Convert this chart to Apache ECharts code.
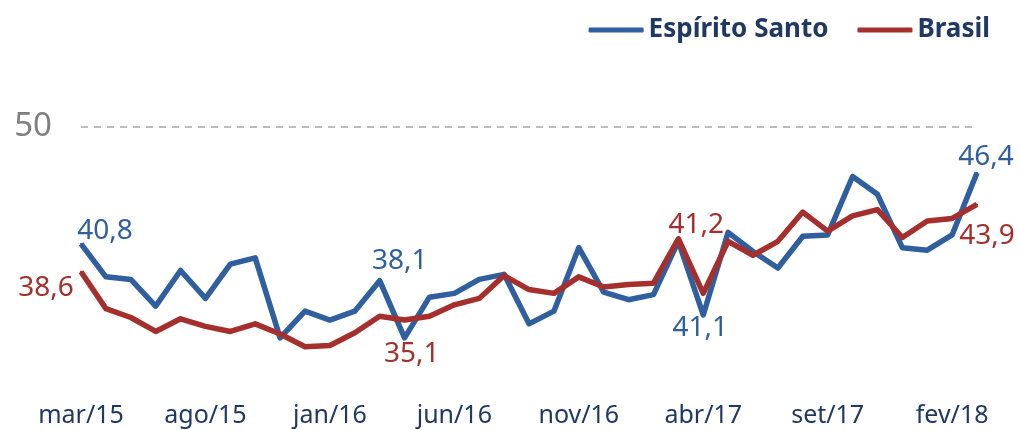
<!DOCTYPE html>
<html>
<head>
<meta charset="utf-8">
<script src="https://cdn.jsdelivr.net/npm/echarts@6/dist/echarts.min.js"></script>
<style>
  html, body { margin: 0; padding: 0; background: #ffffff; }
  #chart { width: 1019px; height: 430px; }
</style>
</head>
<body>
<div id="chart"></div>
<script>
// meses (mar/15 .. mar/18)
const months = [
  'mar/15', 'abr/15', 'mai/15', 'jun/15', 'jul/15', 'ago/15', 'set/15', 'out/15', 'nov/15', 'dez/15',
  'jan/16', 'fev/16', 'mar/16', 'abr/16', 'mai/16', 'jun/16', 'jul/16', 'ago/16', 'set/16', 'out/16',
  'nov/16', 'dez/16', 'jan/17', 'fev/17', 'mar/17', 'abr/17', 'mai/17', 'jun/17', 'jul/17', 'ago/17',
  'set/17', 'out/17', 'nov/17', 'dez/17', 'jan/18', 'fev/18', 'mar/18'
];

const espiritoSanto = [
  40.8, 38.2, 38.0, 35.9, 38.7, 36.5, 39.2, 39.7, 33.4, 35.5,
  34.8, 35.5, 37.9, 33.4, 36.6, 36.9, 38.0, 38.4, 34.5, 35.5,
  40.5, 37.0, 36.4, 36.8, 41.0, 35.2, 41.7, 40.2, 38.9, 41.4,
  41.5, 46.1, 44.7, 40.5, 40.3, 41.5, 46.4
];

const brasil = [
  38.6, 35.7, 35.0, 33.9, 34.9, 34.3, 33.9, 34.5, 33.7, 32.7,
  32.8, 33.8, 35.1, 34.8, 35.1, 36.0, 36.5, 38.3, 37.2, 36.9,
  38.2, 37.4, 37.6, 37.7, 41.2, 36.9, 41.0, 39.9, 41.0, 43.3,
  41.8, 43.0, 43.5, 41.3, 42.6, 42.8, 43.9
];

// rótulos de dados (índice do ponto e texto)
const esLabelIdx = [0, 12, 25, 36];
const esLabelText = ['40,8', '38,1', '41,1', '46,4'];
const brLabelIdx = [0, 12, 24, 36];
const brLabelText = ['38,6', '35,1', '41,2', '43,9'];

const yTicks = [50];

const BLUE = '#2f5f9e';
const RED = '#a52f2c';
const NAVY = '#1f3864';
const FONT = '"Noto Sans", sans-serif';

// desloca o rótulo em relação ao ponto
const esOffsets = [[24, -13], [20, -20], [-3, 13], [9, -16]];
const brOffsets = [[-35, 16], [32, 38], [18, -14], [10, 32]];

function withLabels(values, idx, texts, offsets, color) {
  return values.map((v, i) => {
    const k = idx.indexOf(i);
    if (k < 0) return v;
    return {
      value: v,
      label: {
        show: true,
        position: 'inside',
        offset: offsets[k],
        formatter: texts[k],
        color: color,
        fontSize: 28,
        fontFamily: FONT
      }
    };
  });
}

const chart = echarts.init(document.getElementById('chart'), null, { renderer: 'canvas' });

const option = {
  animation: false,
  backgroundColor: '#ffffff',
  legend: {
    right: 24,
    top: 12,
    itemWidth: 55,
    itemHeight: 5,
    itemGap: 29,
    icon: 'roundRect',
    textStyle: {
      color: NAVY,
      fontSize: 26,
      fontWeight: 'bold',
      fontFamily: FONT,
      padding: [0, 0, 0, 0]
    },
    data: ['Espírito Santo', 'Brasil']
  },
  grid: {
    left: 81,
    right: 42,
    top: 127,
    height: 254
  },
  xAxis: {
    type: 'category',
    boundaryGap: false,
    data: months,
    axisLine: { show: false },
    axisTick: { show: false },
    axisLabel: {
      interval: 4,
      color: NAVY,
      fontSize: 25,
      fontFamily: FONT,
      margin: 22
    }
  },
  yAxis: {
    type: 'value',
    min: 30,
    max: 50,
    interval: 10,
    axisLine: { show: false },
    axisTick: { show: false },
    splitLine: { show: false },
    axisLabel: {
      color: '#7f7f7f',
      fontSize: 33,
      fontFamily: FONT,
      margin: 29,
      formatter: v => (yTicks.indexOf(v) >= 0 ? String(v) : '')
    }
  },
  series: [
    {
      name: 'Espírito Santo',
      type: 'line',
      data: withLabels(espiritoSanto, esLabelIdx, esLabelText, esOffsets, BLUE),
      symbol: 'circle',
      symbolSize: 2,
      showSymbol: true,
      lineStyle: { color: BLUE, width: 5.5, join: 'round' },
      itemStyle: { color: BLUE },
      markLine: {
        silent: true,
        symbol: 'none',
        label: { show: false },
        lineStyle: { color: '#a6a6a6', type: [7, 6], width: 1.5 },
        data: yTicks.map(t => ({ yAxis: t }))
      },
      z: 2
    },
    {
      name: 'Brasil',
      type: 'line',
      data: withLabels(brasil, brLabelIdx, brLabelText, brOffsets, RED),
      symbol: 'circle',
      symbolSize: 2,
      showSymbol: true,
      lineStyle: { color: RED, width: 5.5, join: 'round' },
      itemStyle: { color: RED },
      z: 3
    }
  ]
};

chart.setOption(option);
</script>
</body>
</html>
